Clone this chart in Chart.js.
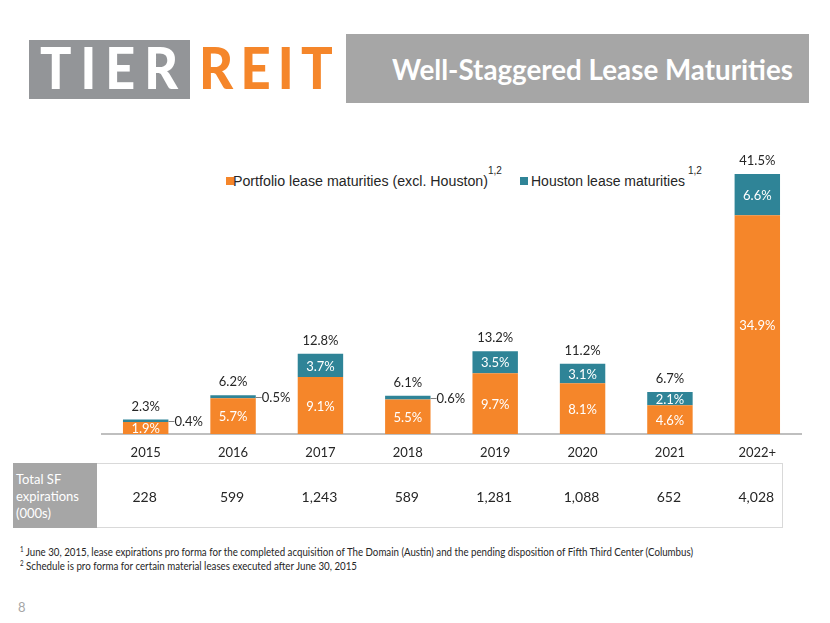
<!DOCTYPE html>
<html>
<head>
<meta charset="utf-8">
<script src="https://cdn.jsdelivr.net/npm/chart.js@4.4.1/dist/chart.umd.min.js"></script>
<style>
  body { margin: 0; width: 830px; height: 623px; background: #fff; position: relative; overflow: hidden; font-family: Lato, "Open Sans", sans-serif; }
  .abs { position: absolute; white-space: nowrap; }
  .fit { transform-origin: left center; display: inline-block; }
  #chart { position: absolute; left: 0; top: 120px; }
  .leg { font: 14px "Liberation Sans", Arial, sans-serif; color: #262626; line-height: 16px; }
  .sq { position: absolute; width: 8px; height: 8px; }
  .sup { font: 10px "Liberation Sans", Arial, sans-serif; color: #262626; }
  .cell { width: 80px; text-align: center; font: 14px Lato, sans-serif; color: #262626; line-height: 18px; top: 488px; }
  .foot { font: 11px Lato, sans-serif; color: #262626; line-height: 13px; }
  .foot sup { font-size: 7px; vertical-align: 4px; }
</style>
</head>
<body>

<!-- logo -->
<div class="abs" style="left:29px;top:40px;width:161px;height:59px;background:#939598"></div>
<div class="abs fit" data-w="147" style="left:40px;top:38px;font:900 58px/58px Lato,sans-serif;letter-spacing:10px;color:#fff">TIER</div>
<div class="abs fit" data-w="141" style="left:199px;top:38px;font:900 58px/58px Lato,sans-serif;letter-spacing:8px;color:#F5862A">REIT</div>

<!-- title banner -->
<div class="abs" style="left:346px;top:34px;width:463px;height:69px;background:#a6a6a6"></div>
<div class="abs fit" data-w="401" style="left:392px;top:54px;font:700 29px/29px Lato,sans-serif;color:#fff">Well-Staggered Lease Maturities</div>

<!-- legend -->
<div class="sq" style="left:226px;top:177px;background:#F5862A"></div>
<div class="abs leg fit" data-w="255" style="left:233px;top:173px">Portfolio lease maturities (excl. Houston)</div>
<div class="abs sup" style="left:488px;top:165px">1,2</div>
<div class="sq" style="left:520px;top:177px;background:#2F8497"></div>
<div class="abs leg fit" data-w="154" style="left:531px;top:173px">Houston lease maturities</div>
<div class="abs sup" style="left:688px;top:165px">1,2</div>

<canvas id="chart" width="830" height="345"></canvas>

<!-- table -->
<div class="abs" style="left:13px;top:463px;width:768px;height:63px;border:1px solid #d9d9d9"></div>
<div class="abs" style="left:13px;top:463px;width:84px;height:65px;background:#a6a6a6"></div>
<div class="abs" style="left:16px;top:471px;font:13px/17px Lato,sans-serif;color:#fff;white-space:normal;width:80px">Total SF<br>expirations<br>(000s)</div>

<!-- footnotes -->
<div class="abs foot fit" data-w="673" style="left:20px;top:543px"><sup>1</sup> June 30, 2015, lease expirations pro forma for the completed acquisition of The Domain (Austin) and the pending disposition of Fifth Third Center (Columbus)</div>
<div class="abs foot fit" data-w="337" style="left:20px;top:557px"><sup>2</sup> Schedule is pro forma for certain material leases executed after June 30, 2015</div>
<div class="abs" style="left:18px;top:599px;font:13px/16px Lato,sans-serif;color:#a6a6a6">8</div>

<script>
const years = ["2015", "2016", "2017", "2018", "2019", "2020", "2021", "2022+"];
const portfolio = [1.9, 5.7, 9.1, 5.5, 9.7, 8.1, 4.6, 34.9];
const houston = [0.4, 0.5, 3.7, 0.6, 3.5, 3.1, 2.1, 6.6];
const totals = [2.3, 6.2, 12.8, 6.1, 13.2, 11.2, 6.7, 41.5];
const sfExpirations = [228, 599, 1243, 589, 1281, 1088, 652, 4028];

const ORANGE = "#F5862A";
const TEAL = "#2F8497";

function pct(v) { return v.toFixed(1) + "%"; }

// labels inside / above bars, small houston values get a leader line
const barLabels = {
    id: "barLabels",
    afterDatasetsDraw(chart) {
        const ctx = chart.ctx;
        const m0 = chart.getDatasetMeta(0);
        const m1 = chart.getDatasetMeta(1);
        ctx.save();
        ctx.font = "13px Lato, sans-serif";
        ctx.textBaseline = "middle";
        m0.data.forEach((bar, i) => {
            const top = m1.data[i];
            ctx.textAlign = "center";
            ctx.fillStyle = "#fff";
            ctx.fillText(pct(portfolio[i]), bar.x, (bar.y + bar.base) / 2 + 1);

            const yMid = (top.y + top.base) / 2;
            if (houston[i] >= 1) {
                ctx.fillText(pct(houston[i]), top.x, yMid + 1);
            } else {
                const xr = top.x + top.width / 2;
                ctx.strokeStyle = "#808080";
                ctx.lineWidth = 1;
                ctx.beginPath();
                ctx.moveTo(xr, Math.round(yMid) + 0.5);
                ctx.lineTo(xr + 6, Math.round(yMid) + 0.5);
                ctx.stroke();
                ctx.textAlign = "left";
                ctx.fillStyle = "#262626";
                ctx.fillText(pct(houston[i]), xr + 6, yMid + 1);
            }

            ctx.textAlign = "center";
            ctx.fillStyle = "#262626";
            ctx.fillText(pct(totals[i]), top.x, top.y - 13);
        });
        ctx.restore();
    }
};

const chart = new Chart(document.getElementById("chart"), {
    type: "bar",
    data: {
        labels: years,
        datasets: [
            {
                label: "Portfolio lease maturities (excl. Houston)",
                data: portfolio,
                backgroundColor: ORANGE,
                barPercentage: 0.52,
                categoryPercentage: 1
            },
            {
                label: "Houston lease maturities",
                data: houston,
                backgroundColor: TEAL,
                barPercentage: 0.52,
                categoryPercentage: 1
            }
        ]
    },
    options: {
        responsive: false,
        animation: false,
        layout: {
            padding: { left: 102, right: 29, top: 32, bottom: 5 }
        },
        plugins: {
            legend: { display: false },
            tooltip: { enabled: false }
        },
        scales: {
            x: {
                stacked: true,
                grid: { display: false, drawTicks: false },
                border: { display: true, color: "#bfbfbf", width: 2 },
                ticks: {
                    color: "#262626",
                    font: { family: "Lato", size: 13 },
                    padding: 11
                },
                afterFit: s => { s.height = 26; }
            },
            y: {
                stacked: true,
                display: false,
                min: 0,
                max: 45
            }
        }
    },
    plugins: [barLabels]
});

// table values lined up with the category centres
const xs = chart.scales.x;
sfExpirations.forEach((v, i) => {
    const d = document.createElement("div");
    d.className = "abs cell";
    d.textContent = v.toLocaleString("en-US");
    d.style.left = (xs.getPixelForValue(i) - 41) + "px";
    document.body.appendChild(d);
});

// squeeze text to the measured widths of the slide
document.querySelectorAll(".fit").forEach(el => {
    const w = el.getBoundingClientRect().width;
    el.style.transform = "scaleX(" + (parseFloat(el.dataset.w) / w) + ")";
});
</script>
</body>
</html>
